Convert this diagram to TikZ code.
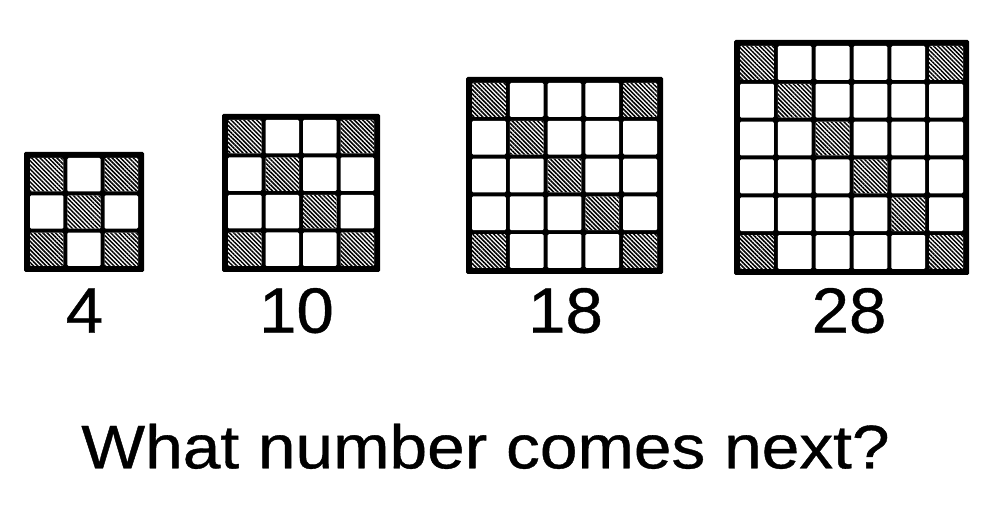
\documentclass[tikz,border=0pt]{standalone}
\usepackage{fontspec}
\setmainfont{Liberation Sans}[FakeBold=0.6]
\newfontfamily\heavysans{Liberation Sans}[FakeBold=0.6]
\usetikzlibrary{patterns.meta}
\tikzset{
  numlabel/.style={anchor=base, inner sep=0pt, xscale=1.05, font=\heavysans\fontsize{64}{64}\selectfont},
  titlelabel/.style={anchor=base, inner sep=0pt, xscale=1.1, font=\heavysans\fontsize{61.5}{62}\selectfont},
  cellwhite/.style={fill=white, rounded corners=1.2pt},
  cellhatch/.style={pattern={Lines[angle=-45,distance=3pt,line width=1.5pt]}, pattern color=black, rounded corners=1.2pt},
  frame/.style={fill=black, rounded corners=1.5pt}
}
% #1 left, #2 top (image y), #3 size, #4 n
\newcommand\mygrid[4]{%
  \pgfmathsetmacro\gL{#1}%
  \pgfmathsetmacro\gT{504-#2}%
  \pgfmathsetmacro\gS{#3}%
  \pgfmathsetmacro\gC{(\gS-12-(#4-1)*4)/#4}%
  \fill[frame] (\gL,\gT) rectangle ++(\gS,-\gS);
  \foreach \i in {1,...,#4}{%
    \foreach \j in {1,...,#4}{%
      \pgfmathsetmacro\cx{\gL+6+(\j-1)*(\gC+4)}%
      \pgfmathsetmacro\cy{\gT-6-(\i-1)*(\gC+4)}%
      \fill[cellwhite] (\cx,\cy) rectangle ++(\gC,-\gC);
      \pgfmathtruncatemacro\hatch{((\i==\j)||((\i+\j==#4+1)&&((\i==1)||(\i==#4))))?1:0}%
      \ifnum\hatch=1
        \fill[cellhatch] (\cx,\cy) rectangle ++(\gC,-\gC);
      \fi
    }%
  }%
}
\begin{document}
\begin{tikzpicture}[x=1pt,y=1pt]
  \useasboundingbox[fill=white] (0,0) rectangle (994,504);
  \mygrid{24}{152}{120}{3}
  \mygrid{222}{114}{158}{4}
  \mygrid{466}{77}{197}{5}
  \mygrid{734}{40}{235}{6}
  \node[numlabel] (n4) at (84.5,171.3) {4};
  \node[numlabel] (n10) at (296.5,171.3) {10};
  \node[numlabel] (n18) at (565.5,171.3) {18};
  \node[numlabel] (n28) at (849,171.3) {28};
  \node[titlelabel] (title) at (485.5,35.7) {What number comes next?};
\end{tikzpicture}
\end{document}
